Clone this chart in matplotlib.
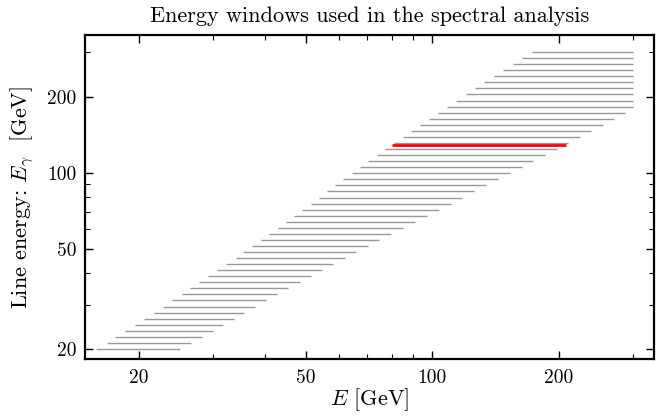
import matplotlib
matplotlib.use("Agg")
from matplotlib import pyplot as plt
from matplotlib.ticker import LogLocator, FixedLocator, NullFormatter, FixedFormatter

plt.rcParams['font.family'] = 'serif'
plt.rcParams['font.serif'] = ['cmr10', 'DejaVu Serif']
plt.rcParams['mathtext.fontset'] = 'cm'
plt.rcParams['axes.formatter.use_mathtext'] = True

# line energies [GeV] and the energy window used for each
line_energy = [20.1, 21.2, 22.4, 23.6, 25.0, 26.4, 27.9, 29.5, 31.3, 33.0,
               34.9, 36.9, 39.0, 41.2, 43.5, 46.0, 48.7, 51.4, 54.3, 57.4,
               60.6, 64.0, 67.6, 71.4, 75.4, 79.7, 84.4, 89.2, 94.2, 99.7,
               105.4, 111.3, 117.6, 124.2, 131.5, 138.9, 146.7, 155.0, 163.7, 172.9,
               182.5, 192.8, 204.4, 215.9, 228.0, 240.9, 254.4, 268.7, 283.8, 300.0]
window_low = [15.8, 16.8, 17.6, 18.6, 19.6, 20.6, 21.7, 22.9, 24.0, 25.3,
              26.5, 27.9, 29.3, 30.8, 32.3, 34.0, 35.5, 37.3, 39.1, 40.9,
              42.8, 44.8, 46.9, 49.0, 51.3, 53.7, 56.2, 58.7, 61.4, 64.3,
              67.3, 70.4, 73.9, 77.3, 81.1, 85.0, 89.1, 93.6, 98.3, 103.3,
              108.5, 114.0, 120.0, 126.3, 132.8, 139.9, 147.4, 155.2, 163.6, 172.3]
window_high = [25.1, 26.7, 28.3, 30.0, 31.7, 33.7, 35.7, 37.9, 40.2, 42.7,
               45.4, 48.3, 51.4, 54.6, 58.0, 61.9, 65.8, 70.2, 74.8, 79.7,
               85.1, 90.8, 96.9, 103.5, 110.6, 117.8, 125.8, 134.4, 143.2, 152.7,
               163.1, 174.1, 185.5, 197.8, 210.9, 224.4, 239.2, 254.5, 270.7, 287.4,
               300.0, 300.0, 300.0, 300.0, 300.0, 300.0, 300.0, 300.0, 300.0, 300.0]

# the highlighted 130 GeV window
red_energy = 129.0
red_low, red_high = 80.0, 208.0

fig = plt.figure(figsize=(6.56, 4.16), dpi=100)
ax = fig.add_axes([0.1296, 0.137, 0.8681, 0.7789])

ax.hlines(line_energy, window_low, window_high, colors='0.6', lw=1.0)
ax.hlines(red_energy, red_low, red_high, colors='red', lw=2.0)

ax.set_xscale('log')
ax.set_yscale('log')
ax.set_xlim(14.9, 338)
ax.set_ylim(18.3, 351)

major = [20, 50, 100, 200]
for axis in (ax.xaxis, ax.yaxis):
    axis.set_major_locator(FixedLocator(major))
    axis.set_major_formatter(FixedFormatter([str(m) for m in major]))
    axis.set_minor_locator(LogLocator(base=10, subs=range(1, 10)))
    axis.set_minor_formatter(NullFormatter())

ax.tick_params(which='both', direction='in', top=True, right=True, labelsize=14)
ax.tick_params(which='major', length=6, width=1.0)
ax.tick_params(which='minor', length=3.5, width=0.8)
ax.tick_params(axis='x', pad=7)
ax.tick_params(axis='y', pad=6)
for sp in ax.spines.values():
    sp.set_linewidth(1.6)

ax.set_xlabel(r'$E$ [GeV]', fontsize=16, labelpad=0)
ax.set_ylabel(r'Line energy: $E_\gamma$  [GeV]', fontsize=16, labelpad=8)
ax.set_title('Energy windows used in the spectral analysis', fontsize=16, pad=9)

plt.savefig("out.png")
